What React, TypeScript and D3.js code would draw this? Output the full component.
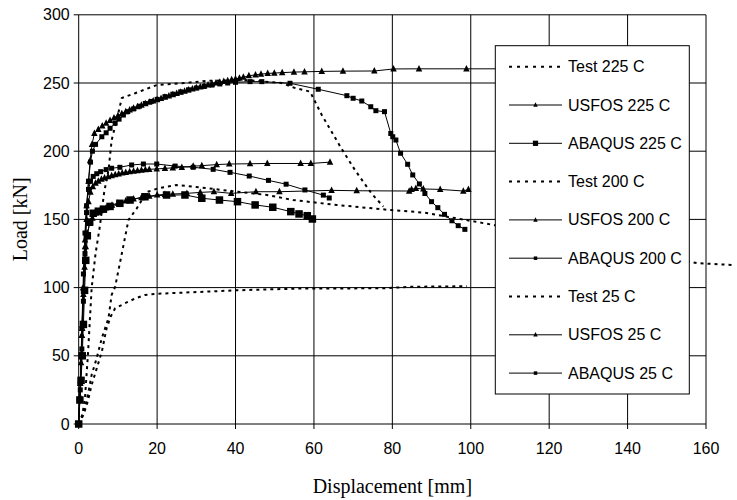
import React from 'react';
import * as d3 from 'd3';

// [displacement mm, load kN]
type Pt = [number, number];

const xTicks = [0, 20, 40, 60, 80, 100, 120, 140, 160];
const yTicks = [0, 50, 100, 150, 200, 250, 300];

const test225: Pt[] = [
  [0, 0], [1.6, 11.7], [2.5, 23.7], [3.3, 36], [4.6, 48.4], [5.9, 63], [7.6, 77.7], [8.4, 94.6],
  [9.3, 100.7], [11, 125], [12.7, 149.6], [14.8, 158], [17.3, 170], [20.3, 172.8], [25, 175.2],
  [30.9, 173.5], [40.3, 170.3], [48, 167.9], [54.7, 164.2], [65.8, 160.6], [79, 157], [88, 155],
  [96, 151], [105.6, 146], [157.7, 118], [167, 116.5],
];
const usfos225: Pt[] = [
  [0, 0], [0.3, 20], [0.6, 45], [0.9, 70], [1.2, 95], [1.5, 115], [1.8, 130], [2.2, 140], [2.8, 147],
  [3.5, 151], [4.5, 154.5], [5.5, 156.5], [7, 158.5], [8.5, 160.5], [10, 162], [12, 163.5], [14, 165],
  [16, 166], [18, 167], [20, 167.9], [22, 168.3], [24, 168.6], [27.6, 169.1], [31, 169.8], [34.5, 170.3],
  [38.9, 169.1], [45.2, 170.3], [51.2, 170.3], [64.5, 171.3], [70.9, 171], [84.3, 170.8], [84.9, 172],
  [86, 172.8], [87.9, 172.3], [92.2, 172], [98.1, 170.8], [99.4, 172],
];
const abaqus225: Pt[] = [
  [0, 0], [0.3, 17.6], [0.6, 32], [0.9, 50], [1.2, 73], [1.5, 98], [1.8, 120], [2.2, 138], [2.8, 148],
  [3.7, 154.5], [5, 156], [6.3, 157.5], [8, 159.5], [10.5, 161.8], [13.1, 164.2], [16.9, 166.6],
  [22.4, 167.9], [27.1, 167.9], [31.4, 165.5], [35.9, 164.2], [40.5, 163], [45, 160.6], [49.5, 158.9],
  [54.1, 155.7], [56.2, 154], [58.3, 152.7], [59.6, 150.3],
];
const test200: Pt[] = [
  [0, 0], [1.2, 6.6], [2.3, 16.4], [3.3, 28.6], [4.6, 40.8], [5.9, 53], [7.1, 70], [8.2, 79],
  [9.3, 84.8], [11.8, 88.5], [14.4, 92], [16.9, 94.6], [20.3, 95.5], [40, 98], [56.5, 99.3],
  [78, 99.5], [84.5, 100.6], [99, 101],
];
const usfos200: Pt[] = [
  [0, 0], [0.4, 30], [0.8, 65], [1.2, 100], [1.6, 130], [2, 150], [2.5, 163], [3, 170], [3.6, 174],
  [4.3, 176.5], [5, 178], [5.8, 179.5], [6.6, 180.5], [7.5, 181.3], [8.4, 182], [9.3, 182.8],
  [10.2, 183.4], [11.1, 184], [12, 184.5], [13, 185], [14, 185.4], [15, 185.8], [16, 186.1], [17, 186.4],
  [18, 186.7], [19.9, 187], [22, 187.4], [24, 187.8], [26.3, 188.2], [29.2, 189], [31.4, 189.4],
  [35.2, 190.2], [38.4, 190.6], [43.7, 190.8], [48.1, 191], [56.6, 191], [59.2, 191], [64.1, 192],
];
const abaqus200: Pt[] = [
  [0, 0], [0.4, 30], [0.8, 70], [1.2, 110], [1.6, 140], [2, 160], [2.5, 172], [3, 178], [3.7, 181.5],
  [4.6, 183.5], [5.6, 185], [7, 186.5], [8.4, 187.5], [10.5, 188.2], [13.5, 189.9], [16.5, 190.6],
  [19.9, 190.6], [24.6, 189.1], [29.2, 188.2], [34.3, 186.7], [38.6, 184.5], [43.5, 181.8],
  [48.4, 178.6], [52.9, 175.8], [57.7, 171.6], [62.4, 167.8], [63.9, 165.7],
];
const test25: Pt[] = [
  [0, 0], [0.8, 4.4], [1.6, 19], [2.4, 53], [3.3, 99.7], [4.3, 125], [5.4, 145], [6.5, 170],
  [7.6, 186], [8.4, 208], [9.7, 223], [11, 239], [14.4, 242.5], [19.9, 248.5], [27, 250], [33, 251.6],
  [39.6, 252], [43.4, 252], [51.8, 250], [55, 246.5], [59, 243.7], [62, 226.6], [67, 202], [70.5, 186],
  [74.7, 169], [77.7, 159.4],
];
const usfos25: Pt[] = [
  [0, 0], [0.4, 30], [0.8, 65], [1.2, 100], [1.6, 135], [2, 160], [2.5, 178], [2.9, 193], [3.4, 205],
  [4, 213], [5, 216], [6, 218.5], [7, 220.5], [8, 222.5], [9, 224.5], [10, 226], [11, 227.5], [12, 229],
  [13, 230.3], [14, 231.5], [15, 232.7], [16, 233.8], [17, 234.9], [18, 235.9], [19, 236.9], [20, 237.8],
  [21, 238.8], [22, 239.7], [23, 240.6], [24, 241.5], [25, 242.4], [26, 243.3], [27, 244.1], [28, 244.9],
  [29, 245.7], [30, 246.5], [31, 247.2], [32, 247.9], [33, 248.6], [34, 249.3], [35, 250], [36, 250.6],
  [37, 251.2], [38, 251.8], [39, 252.4], [40, 253], [41, 253.6], [42, 254.2], [43.4, 255.3], [45.1, 256],
  [46.5, 256.5], [48.2, 257], [49.9, 257.3], [51.9, 257.6], [54.9, 258], [57.6, 258.2], [62, 258.5],
  [67.4, 258.7], [75.4, 258.8], [80.3, 260.3], [86.8, 260.4], [98.9, 260.4], [120, 260.4],
];
const abaqus25: Pt[] = [
  [0, 0], [0.4, 25], [0.8, 55], [1.2, 90], [1.6, 125], [2, 155], [2.5, 178], [3, 192], [3.5, 200],
  [4.3, 205], [5.9, 210.6], [7, 213.5], [8, 216.8], [9.3, 220.5], [10.3, 223.5], [11.4, 226.5],
  [12.5, 229], [14, 231], [15.5, 233], [17, 235], [18.5, 236.5], [20, 238], [22, 240], [24, 241.8],
  [26, 243.5], [28, 245], [30, 246.3], [32, 247.5], [34, 248.5], [36, 249.3], [38, 250], [40, 250.5],
  [43.7, 251], [46.7, 251], [53.9, 249.8], [61.1, 245.4], [68.4, 240.7], [70, 238.8], [72.2, 236.8],
  [74.5, 232.6], [75.8, 229.7], [78, 229], [79.6, 213], [80.1, 210.6], [80.9, 208.2], [82.1, 198.5],
  [83.9, 190.4], [85.2, 182.6], [86.9, 176], [88.3, 169], [90, 163], [91.6, 158.6], [93.3, 153.7],
  [95.2, 149], [96.8, 145.4], [98.5, 142.7],
];

type Marker = 'none' | 'tri' | 'sq' | 'bigsq';
const series: { label: string; data: Pt[]; marker: Marker }[] = [
  { label: 'Test 225 C', data: test225, marker: 'none' },
  { label: 'USFOS 225 C', data: usfos225, marker: 'tri' },
  { label: 'ABAQUS 225 C', data: abaqus225, marker: 'bigsq' },
  { label: 'Test 200 C', data: test200, marker: 'none' },
  { label: 'USFOS 200 C', data: usfos200, marker: 'tri' },
  { label: 'ABAQUS 200 C', data: abaqus200, marker: 'sq' },
  { label: 'Test 25 C', data: test25, marker: 'none' },
  { label: 'USFOS 25 C', data: usfos25, marker: 'tri' },
  { label: 'ABAQUS 25 C', data: abaqus25, marker: 'sq' },
];

const W = 737, H = 500;
const L = 78.7, R = 706, T = 14.8, B = 424;

const drawMarker = (m: Marker, cx: number, cy: number, key: string, scale = 1) => {
  if (m === 'tri') {
    const s = 6.5 * scale;
    return <path key={key} d={`M${cx},${cy - s * 0.6}L${cx + s / 2},${cy + s * 0.4}L${cx - s / 2},${cy + s * 0.4}Z`} fill="#000" />;
  }
  if (m === 'sq' || m === 'bigsq') {
    const s = (m === 'sq' ? 5 : 7.5) * scale;
    return <rect key={key} x={cx - s / 2} y={cy - s / 2} width={s} height={s} fill="#000" />;
  }
  return null;
};

const App = () => {
  const x = d3.scaleLinear().domain([0, 160]).range([L, R]);
  const y = d3.scaleLinear().domain([0, 300]).range([B, T]);
  const line = d3.line<Pt>().x(d => x(d[0])).y(d => y(d[1]));

  const legX = 495.3, legY = 45.7, legW = 194, legH = 348.3;
  const rowH = 38.3;

  return (
    <svg width={W} height={H} style={{ position: 'absolute', left: 0, top: 0, background: '#fff' }}>
      <rect width={W} height={H} fill="#fff" />
      {/* gridlines */}
      {yTicks.filter(t => t > 0).map(t => (
        <line key={'gy' + t} x1={L} x2={R} y1={y(t)} y2={y(t)} stroke="#000" strokeWidth={1} />
      ))}
      {xTicks.filter(t => t > 0).map(t => (
        <line key={'gx' + t} x1={x(t)} x2={x(t)} y1={T} y2={B} stroke="#000" strokeWidth={1} />
      ))}
      {/* axes */}
      <line x1={L} x2={L} y1={T} y2={B} stroke="#000" />
      <line x1={L} x2={R} y1={B} y2={B} stroke="#000" />
      {yTicks.map(t => (
        <g key={'ty' + t}>
          <line x1={L - 5} x2={L} y1={y(t)} y2={y(t)} stroke="#000" />
          <text x={L - 9} y={y(t) + 5.5} textAnchor="end" fontFamily="Liberation Sans, Arial" fontSize={16}>{t}</text>
        </g>
      ))}
      {xTicks.map(t => (
        <g key={'tx' + t}>
          <line x1={x(t)} x2={x(t)} y1={B} y2={B + 5} stroke="#000" />
          <text x={x(t)} y={B + 30} textAnchor="middle" fontFamily="Liberation Sans, Arial" fontSize={16}>{t}</text>
        </g>
      ))}
      <text x={(L + R) / 2} y={493} textAnchor="middle" fontFamily="Liberation Serif, Times New Roman" fontSize={20}>Displacement [mm]</text>
      <text transform={`translate(27,${(T + B) / 2}) rotate(-90)`} textAnchor="middle" fontFamily="Liberation Serif, Times New Roman" fontSize={20}>Load [kN]</text>

      {/* series */}
      {series.map((s, i) => (
        <g key={'s' + i}>
          <path d={line(s.data) || ''} fill="none" stroke="#000"
            strokeWidth={s.marker === 'none' ? 2 : 1}
            strokeDasharray={s.marker === 'none' ? '3,4' : undefined} />
          {s.marker !== 'none' && s.data.map((d, j) => drawMarker(s.marker, x(d[0]), y(d[1]), `m${i}-${j}`))}
        </g>
      ))}

      {/* legend */}
      <rect x={legX} y={legY} width={legW} height={legH} fill="#fff" stroke="#000" strokeWidth={1} />
      {series.map((s, i) => {
        const cy = legY + 21 + i * rowH;
        return (
          <g key={'l' + i}>
            <line x1={509} x2={562} y1={cy} y2={cy} stroke="#000"
              strokeWidth={s.marker === 'none' ? 2 : 1}
              strokeDasharray={s.marker === 'none' ? '3,5' : undefined} />
            {drawMarker(s.marker, 535.5, cy, 'lm' + i, 0.7)}
            <text x={568} y={cy + 5.5} fontFamily="Liberation Sans, Arial" fontSize={16}>{s.label}</text>
          </g>
        );
      })}
    </svg>
  );
};

export default App;
